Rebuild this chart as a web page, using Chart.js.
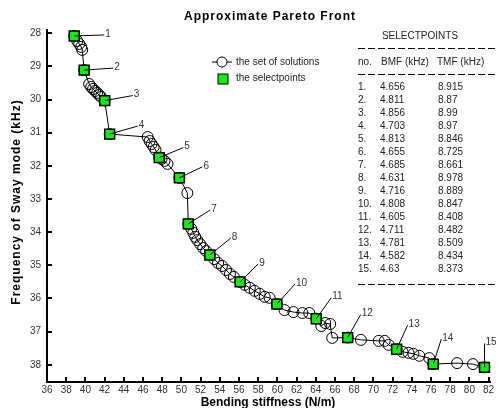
<!DOCTYPE html>
<html>
<head>
<meta charset="utf-8">
<script src="https://cdn.jsdelivr.net/npm/chart.js@4.4.1/dist/chart.umd.min.js"></script>
<style>
  html, body { margin: 0; padding: 0; background: #fff; }
  #wrap { width: 499px; height: 408px; }
</style>
</head>
<body>
<div id="wrap"><canvas id="pareto" width="499" height="408"></canvas></div>
<script>
// the set of solutions, in the order the line joins them
const solX = [38.84, 39.15, 39.36, 39.56, 39.67, 39.87, 40.39, 40.60, 40.80, 41.01, 41.22, 41.42, 41.63, 42.01,
  42.53, 46.49, 46.69, 46.90, 47.11, 47.31, 47.69, 47.93, 48.24, 48.55, 49.79, 50.62, 50.72, 51.03, 51.24,
  51.44, 51.65, 51.96, 52.27, 52.58, 52.96, 53.41, 53.82, 54.23, 54.65, 55.06, 55.47, 56.12, 56.61, 57.13,
  57.64, 58.16, 58.68, 59.19, 59.95, 60.74, 61.67, 62.60, 63.32, 64.05, 64.57, 64.98, 65.50, 65.71, 67.32,
  68.70, 70.56, 71.18, 71.59, 72.42, 73.04, 73.66, 74.17, 74.79, 75.82, 76.24, 78.72, 80.37, 81.58];
const solY = [28.08, 28.23, 28.32, 28.41, 28.50, 29.11, 29.53, 29.62, 29.68, 29.74, 29.80, 29.86, 29.92, 30.03,
  31.04, 31.13, 31.25, 31.34, 31.43, 31.52, 31.75, 31.79, 31.85, 31.94, 32.36, 32.82, 33.75, 33.90, 34.02,
  34.14, 34.24, 34.36, 34.48, 34.57, 34.69, 34.81, 34.93, 35.02, 35.14, 35.26, 35.35, 35.50, 35.59, 35.68,
  35.77, 35.86, 35.95, 35.98, 36.17, 36.35, 36.41, 36.44, 36.44, 36.61, 36.83, 36.74, 36.77, 37.19, 37.18,
  37.25, 37.28, 37.28, 37.40, 37.53, 37.61, 37.64, 37.67, 37.73, 37.80, 37.98, 37.95, 37.98, 38.08];

// the select points
const selX = [38.84, 39.87, 42.01, 42.53, 47.69, 49.79, 50.72, 52.96, 56.12, 59.95, 64.05, 67.32, 72.42, 76.24, 81.58];
const selY = [28.08, 29.11, 30.03, 31.04, 31.75, 32.36, 33.75, 34.69, 35.50, 36.17, 36.61, 37.18, 37.53, 37.98, 38.08];
const selBMF = ['4.656', '4.811', '4.856', '4.703', '4.813', '4.655', '4.685', '4.631', '4.716', '4.808',
  '4.605', '4.711', '4.781', '4.582', '4.63'];
const selTMF = ['8.915', '8.87', '8.99', '8.97', '8.846', '8.725', '8.661', '8.978', '8.889', '8.847',
  '8.408', '8.482', '8.509', '8.434', '8.373'];

const xTicks = [36, 38, 40, 42, 44, 46, 48, 50, 52, 54, 56, 58, 60, 62, 64, 66, 68, 70, 72, 74, 76, 78, 80, 82];
const yTicks = [28, 29, 30, 31, 32, 33, 34, 35, 36, 37, 38];

// where each numbered callout ends, in pixels from its point
const calloutDx = [30, 29, 28, 28, 24, 23, 22, 21, 18, 18, 15, 13, 11, 8, 0];
const calloutDy = [-1, -2, -5, -8, -10, -11, -14, -17, -18, -20, -21, -23, -24, -25, -24];

const FONT = '"Liberation Sans", Arial, sans-serif';

const decor = {
    id: 'decor',
    afterDatasetsDraw(chart) {
        const ctx = chart.ctx;
        const xs = chart.scales.x, ys = chart.scales.y;
        const area = chart.chartArea;
        ctx.save();
        ctx.strokeStyle = '#000';

        // tick marks point into the plot
        ctx.lineWidth = 2;
        ctx.beginPath();
        xTicks.forEach(v => {
            const px = Math.round(xs.getPixelForValue(v));
            ctx.moveTo(px, area.bottom);
            ctx.lineTo(px, area.bottom - 5);
        });
        yTicks.forEach(v => {
            const py = Math.round(ys.getPixelForValue(v));
            ctx.moveTo(area.left, py);
            ctx.lineTo(area.left + 5, py);
        });
        ctx.stroke();

        // numbered callouts
        ctx.lineWidth = 1;
        ctx.fillStyle = '#333';
        ctx.font = '10px ' + FONT;
        ctx.textBaseline = 'middle';
        ctx.textAlign = 'left';
        selX.forEach((v, i) => {
            const px = xs.getPixelForValue(v), py = ys.getPixelForValue(selY[i]);
            const ex = px + calloutDx[i], ey = py + calloutDy[i];
            ctx.beginPath();
            ctx.moveTo(px, py);
            ctx.lineTo(ex, ey);
            ctx.stroke();
            ctx.fillText(String(i + 1), ex + 1, ey - 1);
        });
        ctx.restore();
    },
    afterDraw(chart) {
        const ctx = chart.ctx;
        ctx.save();
        ctx.fillStyle = '#000';
        ctx.textBaseline = 'middle';

        // title
        ctx.font = 'bold 12px ' + FONT;
        ctx.letterSpacing = '1px';
        ctx.textAlign = 'center';
        ctx.fillText('Approximate Pareto Front', 270, 17);

        // axis titles
        ctx.save();
        ctx.translate(17, 202);
        ctx.rotate(-Math.PI / 2);
        ctx.fillText('Frequency of Sway mode (kHz)', 0, 0);
        ctx.restore();
        ctx.letterSpacing = '0px';
        ctx.fillText('Bending stiffness (N/m)', 268, 403);

        // legend
        ctx.strokeStyle = '#000';
        ctx.lineWidth = 1;
        ctx.beginPath();
        ctx.moveTo(212, 62);
        ctx.lineTo(232, 62);
        ctx.stroke();
        ctx.fillStyle = '#fff';
        ctx.beginPath();
        ctx.arc(222, 62, 5, 0, Math.PI * 2);
        ctx.fill();
        ctx.stroke();
        ctx.fillStyle = '#11ee11';
        ctx.fillRect(218, 74, 10, 10);
        ctx.strokeRect(218, 74, 10, 10);
        ctx.fillStyle = '#222';
        ctx.font = '10px ' + FONT;
        ctx.textAlign = 'left';
        ctx.fillText('the set of solutions', 236, 62);
        ctx.fillText('the selectpoints', 236, 78);

        // table of select points
        ctx.textAlign = 'center';
        ctx.fillText('SELECTPOINTS', 420, 36);
        ctx.textAlign = 'left';
        ctx.fillText('no.', 358, 62);
        ctx.fillText('BMF (kHz)', 381, 62);
        ctx.fillText('TMF (kHz)', 437, 62);
        ctx.setLineDash([7, 3]);
        [48, 74, 284].forEach(y => {
            ctx.beginPath();
            ctx.moveTo(358, y + 0.5);
            ctx.lineTo(497, y + 0.5);
            ctx.stroke();
        });
        ctx.setLineDash([]);
        selBMF.forEach((b, i) => {
            const y = 87 + i * 13;
            ctx.fillText((i + 1) + '.', 358, y);
            ctx.fillText(b, 380, y);
            ctx.fillText(selTMF[i], 438, y);
        });
        ctx.restore();
    }
};

const axisCommon = {
    type: 'linear',
    grid: { drawOnChartArea: false, drawTicks: false },
    border: { display: true, color: '#000', width: 2 },
    ticks: { color: '#333', font: { size: 10, family: FONT }, autoSkip: false, maxRotation: 0 }
};

new Chart(document.getElementById('pareto'), {
    type: 'scatter',
    data: {
        datasets: [{
            label: 'the selectpoints',
            data: selX.map((x, i) => ({ x: x, y: selY[i] })),
            pointStyle: 'rect',
            pointRadius: 7,
            backgroundColor: '#11ee11',
            borderColor: '#000',
            borderWidth: 1.5,
            showLine: false
        }, {
            label: 'the set of solutions',
            data: solX.map((x, i) => ({ x: x, y: solY[i] })),
            pointStyle: 'circle',
            pointRadius: 5.5,
            backgroundColor: 'rgba(255,255,255,0)',
            borderColor: '#000',
            borderWidth: 1,
            showLine: true,
            borderJoinStyle: 'round'
        }]
    },
    options: {
        responsive: false,
        animation: false,
        layout: { padding: { top: 30, right: 3, left: 0, bottom: 0 } },
        plugins: { legend: { display: false }, tooltip: { enabled: false }, title: { display: false } },
        scales: {
            x: Object.assign({}, axisCommon, {
                min: 36, max: 82.2,
                ticks: Object.assign({}, axisCommon.ticks, { padding: 2 }),
                afterBuildTicks: s => { s.ticks = xTicks.map(v => ({ value: v })); },
                afterFit: s => { s.height = 26; }
            }),
            y: Object.assign({}, axisCommon, {
                min: 27.9, max: 38.52, reverse: true,
                ticks: Object.assign({}, axisCommon.ticks, { padding: 6 }),
                afterBuildTicks: s => { s.ticks = yTicks.map(v => ({ value: v })); },
                afterFit: s => { s.width = 47; }
            })
        }
    },
    plugins: [decor]
});
</script>
</body>
</html>
